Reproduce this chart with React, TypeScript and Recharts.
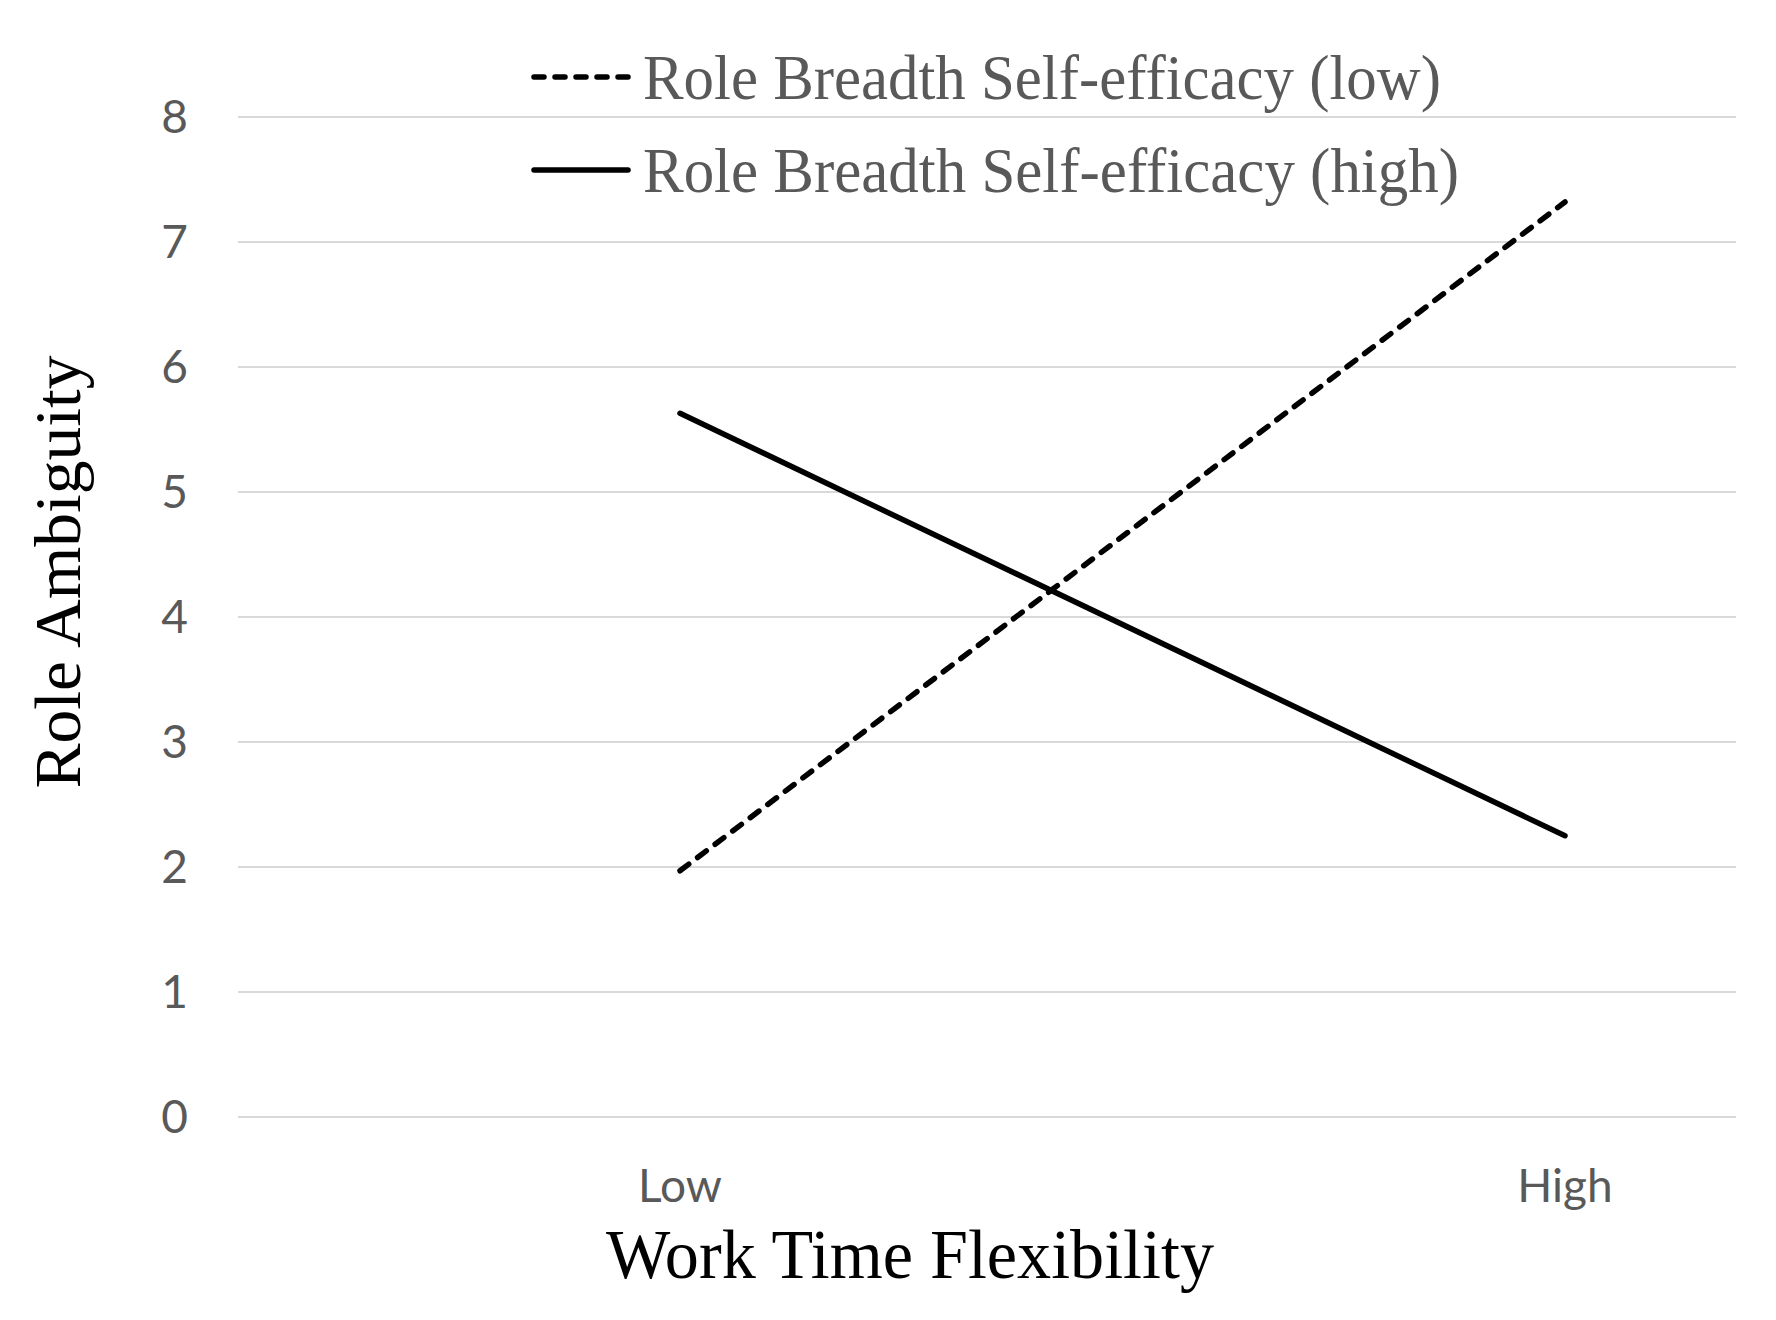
import { CartesianGrid, Line, LineChart, XAxis, YAxis } from 'recharts';

const categories = ['Low', 'High'];
const rbseLow = [1.97, 7.32];
const rbseHigh = [5.63, 2.25];
const yTicks = [0, 1, 2, 3, 4, 5, 6, 7, 8];
const legendLabels = ['Role Breadth Self-efficacy (low)', 'Role Breadth Self-efficacy (high)'];

const data = categories.map((c, i) => ({ name: c, low: rbseLow[i], high: rbseHigh[i] }));

const serif = '"Liberation Serif", "Times New Roman", serif';
const sans = 'Lato, Calibri, "Open Sans", sans-serif';

// legend drawn on top of the chart, excel-style, no reserved space
const LegendBox = () => (
  <svg width={1040} height={200} style={{ position: 'absolute', left: 528, top: 30 }}>
    <line x1={6} y1={47} x2={100} y2={47} stroke="#000" strokeWidth={5.5} strokeDasharray="10 11" strokeLinecap="round" />
    <text x={115} y={69} fontFamily={serif} fontSize={64} fill="#595959" textLength={798} lengthAdjust="spacingAndGlyphs">
      {legendLabels[0]}
    </text>
    <line x1={6} y1={140} x2={100} y2={140} stroke="#000" strokeWidth={5.5} strokeLinecap="round" />
    <text x={115} y={162} fontFamily={serif} fontSize={64} fill="#595959" textLength={816} lengthAdjust="spacingAndGlyphs">
      {legendLabels[1]}
    </text>
  </svg>
);

export default function App() {
  return (
    <div style={{ width: 1776, height: 1320, background: '#fff', position: 'relative' }}>
      <style>{'body{margin:0}'}</style>
      <LineChart width={1776} height={1320} data={data} margin={{ top: 117, right: 40, bottom: 173, left: 0 }}>
        <CartesianGrid vertical={false} stroke="#d9d9d9" strokeWidth={2} />
        <XAxis
          dataKey="name"
          height={30}
          axisLine={false}
          tickLine={false}
          tickSize={0}
          tickMargin={52}
          padding={{ left: 442, right: 171 }}
          tick={{ fontFamily: sans, fontSize: 46, fill: '#595959' }}
          label={{
            content: () => (
              <text x={910} y={1278} textAnchor="middle" fontFamily={serif} fontSize={70} fill="#000" textLength={608} lengthAdjust="spacingAndGlyphs">
                Work Time Flexibility
              </text>
            ),
          }}
        />
        <YAxis
          width={238}
          domain={[0, 8]}
          ticks={yTicks}
          axisLine={false}
          tickLine={false}
          tickSize={0}
          tickMargin={50}
          tick={{ fontFamily: sans, fontSize: 46, fill: '#595959' }}
          label={{
            content: () => (
              <text
                x={57}
                y={572}
                transform="rotate(-90 57 572)"
                textAnchor="middle"
                dominantBaseline="central"
                fontFamily={serif}
                fontSize={66}
                fill="#000"
                textLength={433}
                lengthAdjust="spacingAndGlyphs"
              >
                Role Ambiguity
              </text>
            ),
          }}
        />
        <Line
          dataKey="low"
          stroke="#000"
          strokeWidth={5.5}
          strokeDasharray="11 11"
          strokeLinecap="round"
          dot={false}
          activeDot={false}
          isAnimationActive={false}
        />
        <Line
          dataKey="high"
          stroke="#000"
          strokeWidth={5.5}
          strokeLinecap="round"
          dot={false}
          activeDot={false}
          isAnimationActive={false}
        />
      </LineChart>
      <LegendBox />
    </div>
  );
}
